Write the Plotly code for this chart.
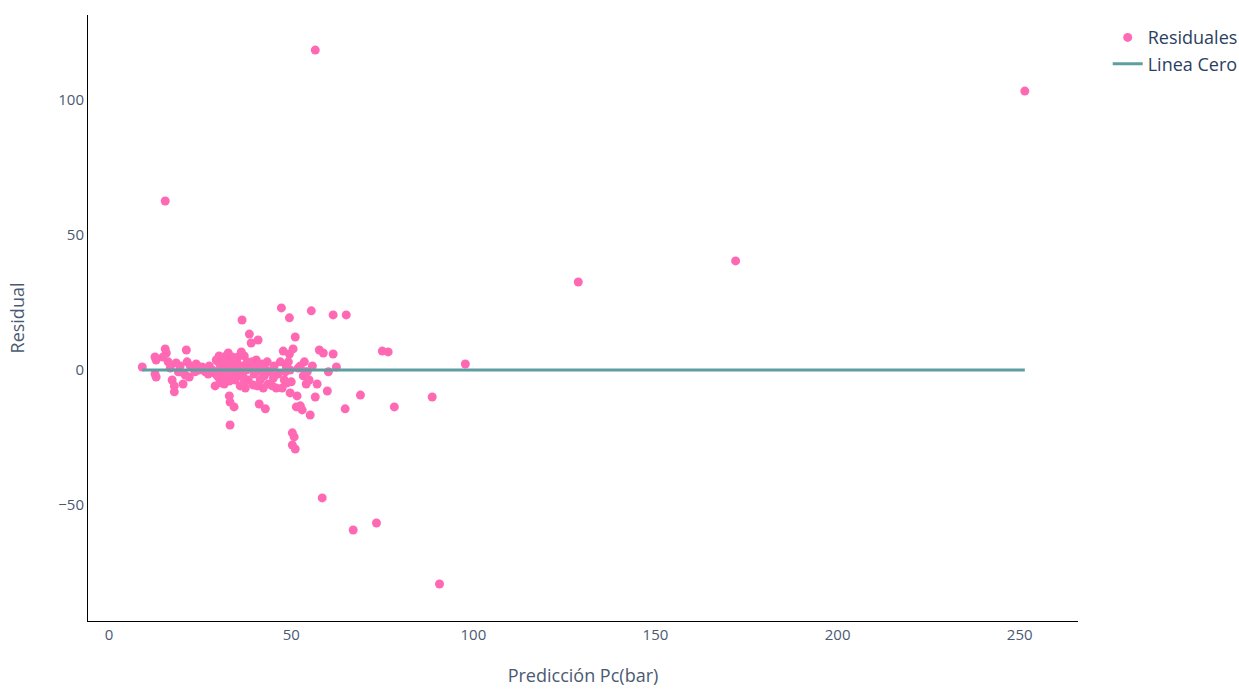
import plotly.graph_objects as go

# Predicted Pc (bar) and residuals
pred = [
    9.1, 12.6, 12.9, 12.9, 12.6, 14.8, 15.4, 15.7, 16.2, 17.3, 17.9, 17.9, 18.4, 19.0, 19.5,
    20.3, 20.9, 21.2, 21.4, 22.3, 22.0, 23.1, 23.9, 24.7, 25.5, 26.4, 27.2, 27.5, 28.3, 28.8,
    29.1, 29.7, 29.9, 30.2, 30.5, 30.8, 31.0, 31.3, 31.6, 31.9, 32.1, 32.4, 32.7, 33.0, 33.0,
    33.2, 33.2, 33.5, 33.8, 34.1, 34.3, 34.6, 34.9, 35.2, 35.4, 35.7, 36.0, 36.3, 36.5, 36.5,
    36.8, 37.1, 37.4, 37.6, 38.2, 38.5, 38.7, 39.0, 39.3, 39.6, 39.8, 40.4, 40.9, 40.9, 41.2,
    41.5, 42.0, 42.3, 42.9, 42.6, 43.1, 43.7, 44.2, 44.8, 45.3, 45.9, 46.4, 47.0, 47.3, 47.5,
    47.8, 48.1, 48.6, 48.9, 49.5, 49.5, 49.7, 49.7, 50.0, 50.3, 50.3, 50.5, 50.8, 51.1, 51.1,
    51.4, 51.6, 51.9, 52.5, 53.0, 53.3, 53.6, 54.1, 54.4, 54.9, 55.2, 55.5, 55.8, 56.6, 56.6,
    57.1, 57.7, 58.8, 58.5, 59.9, 60.2, 61.5, 61.5, 62.4, 64.8, 65.1, 67.0, 69.0, 73.4, 75.0,
    76.6, 78.3, 88.7, 90.7, 97.8, 128.8, 172.0, 251.4, 15.4,
    29.4, 30.2, 31.6, 32.1, 32.7, 33.8, 34.9, 36.0, 37.1, 37.9, 40.1, 40.7, 41.8, 43.4, 45.1,
    48.4, 49.2, 52.5, 53.8, 16.8, 19.5, 23.6,
]
residual = [
    1.1, 4.8, 3.7, -2.6, -1.5, 4.8, 7.8, 6.3, 3.0, -3.7, -8.1, -5.9, 2.6, -0.7, 1.5,
    -5.2, -1.9, 7.4, 3.0, 1.5, -2.6, 0.7, 2.2, 0.0, 1.1, -0.7, -1.5, 1.5, 0.0, -1.1,
    -5.9, -2.2, 3.0, 5.2, 0.7, -4.8, 4.4, -0.7, 1.9, -3.0, 5.2, 0.0, 3.7, -9.6, -4.1,
    -20.4, -11.9, 1.1, -1.9, 3.0, -13.7, -3.7, 0.0, 2.2, 4.8, -1.1, -5.9, 6.7, 18.5, 1.5,
    -2.6, 5.2, -6.7, 0.0, -3.7, 13.3, 0.7, 10.0, 3.0, -5.6, -1.5, 3.7, 11.1, -0.4, -12.6,
    -3.7, 2.2, -6.7, -14.4, -2.2, 0.0, -5.2, -0.7, -5.9, 1.5, -6.7, -1.5, 3.0, 23.0, -6.7,
    7.0, -3.7, 1.5, -4.8, 19.3, 5.9, -8.5, 0.0, -4.4, -23.3, -27.8, 7.8, -24.8, -29.3, 12.2,
    -13.7, -9.6, 0.7, -13.3, -14.8, -2.2, 3.0, -5.2, -0.7, -3.7, -16.7, 21.9, 1.5, -10.0, 118.5,
    -5.2, 7.4, 6.3, -47.4, -7.8, -0.7, 20.4, 5.9, 1.1, -14.4, 20.4, -59.3, -9.3, -56.7, 7.0,
    6.7, -13.7, -10.0, -79.3, 2.2, 32.6, 40.4, 103.3, 62.6,
    3.7, -3.0, -5.2, 1.5, 6.3, 4.8, 3.7, -2.2, -4.8, 3.0, 1.1, -5.9, -0.7, 3.0, -3.0,
    -0.7, 3.0, 1.5, -0.7, 0.7, -0.7, -0.7,
]

x_ticks = [0, 50, 100, 150, 200, 250]
y_ticks = [-50, 0, 50, 100]

fig = go.Figure()
fig.add_trace(go.Scatter(
    x=pred, y=residual, mode="markers", name="Residuales",
    marker=dict(color="#FF69B4", size=9),
))
fig.add_trace(go.Scatter(
    x=[min(pred), max(pred)], y=[0, 0], mode="lines", name="Linea Cero",
    line=dict(color="#5F9EA0", width=3),
))

fig.update_layout(
    width=1239, height=689,
    paper_bgcolor="white", plot_bgcolor="white",
    margin=dict(l=88, r=161, t=15, b=68, autoexpand=False),
    font=dict(family="Open Sans", size=15, color="#4a5a72"),
    legend=dict(x=1.03, y=0.993, font=dict(size=18, color="#2a3f5f")),
    xaxis=dict(
        title=dict(text="Predicción Pc(bar)", font=dict(size=18), standoff=26),
        range=[-5.8, 266], tickvals=x_ticks, showgrid=False, zeroline=False,
        showline=True, linecolor="black", linewidth=1, ticks="", automargin=False,
    ),
    yaxis=dict(
        title=dict(text="Residual", font=dict(size=18), standoff=28),
        range=[-93, 131.5], tickvals=y_ticks, showgrid=False, zeroline=False,
        showline=True, linecolor="black", linewidth=1, ticks="", automargin=False,
    ),
)

fig.write_html("out.html")
